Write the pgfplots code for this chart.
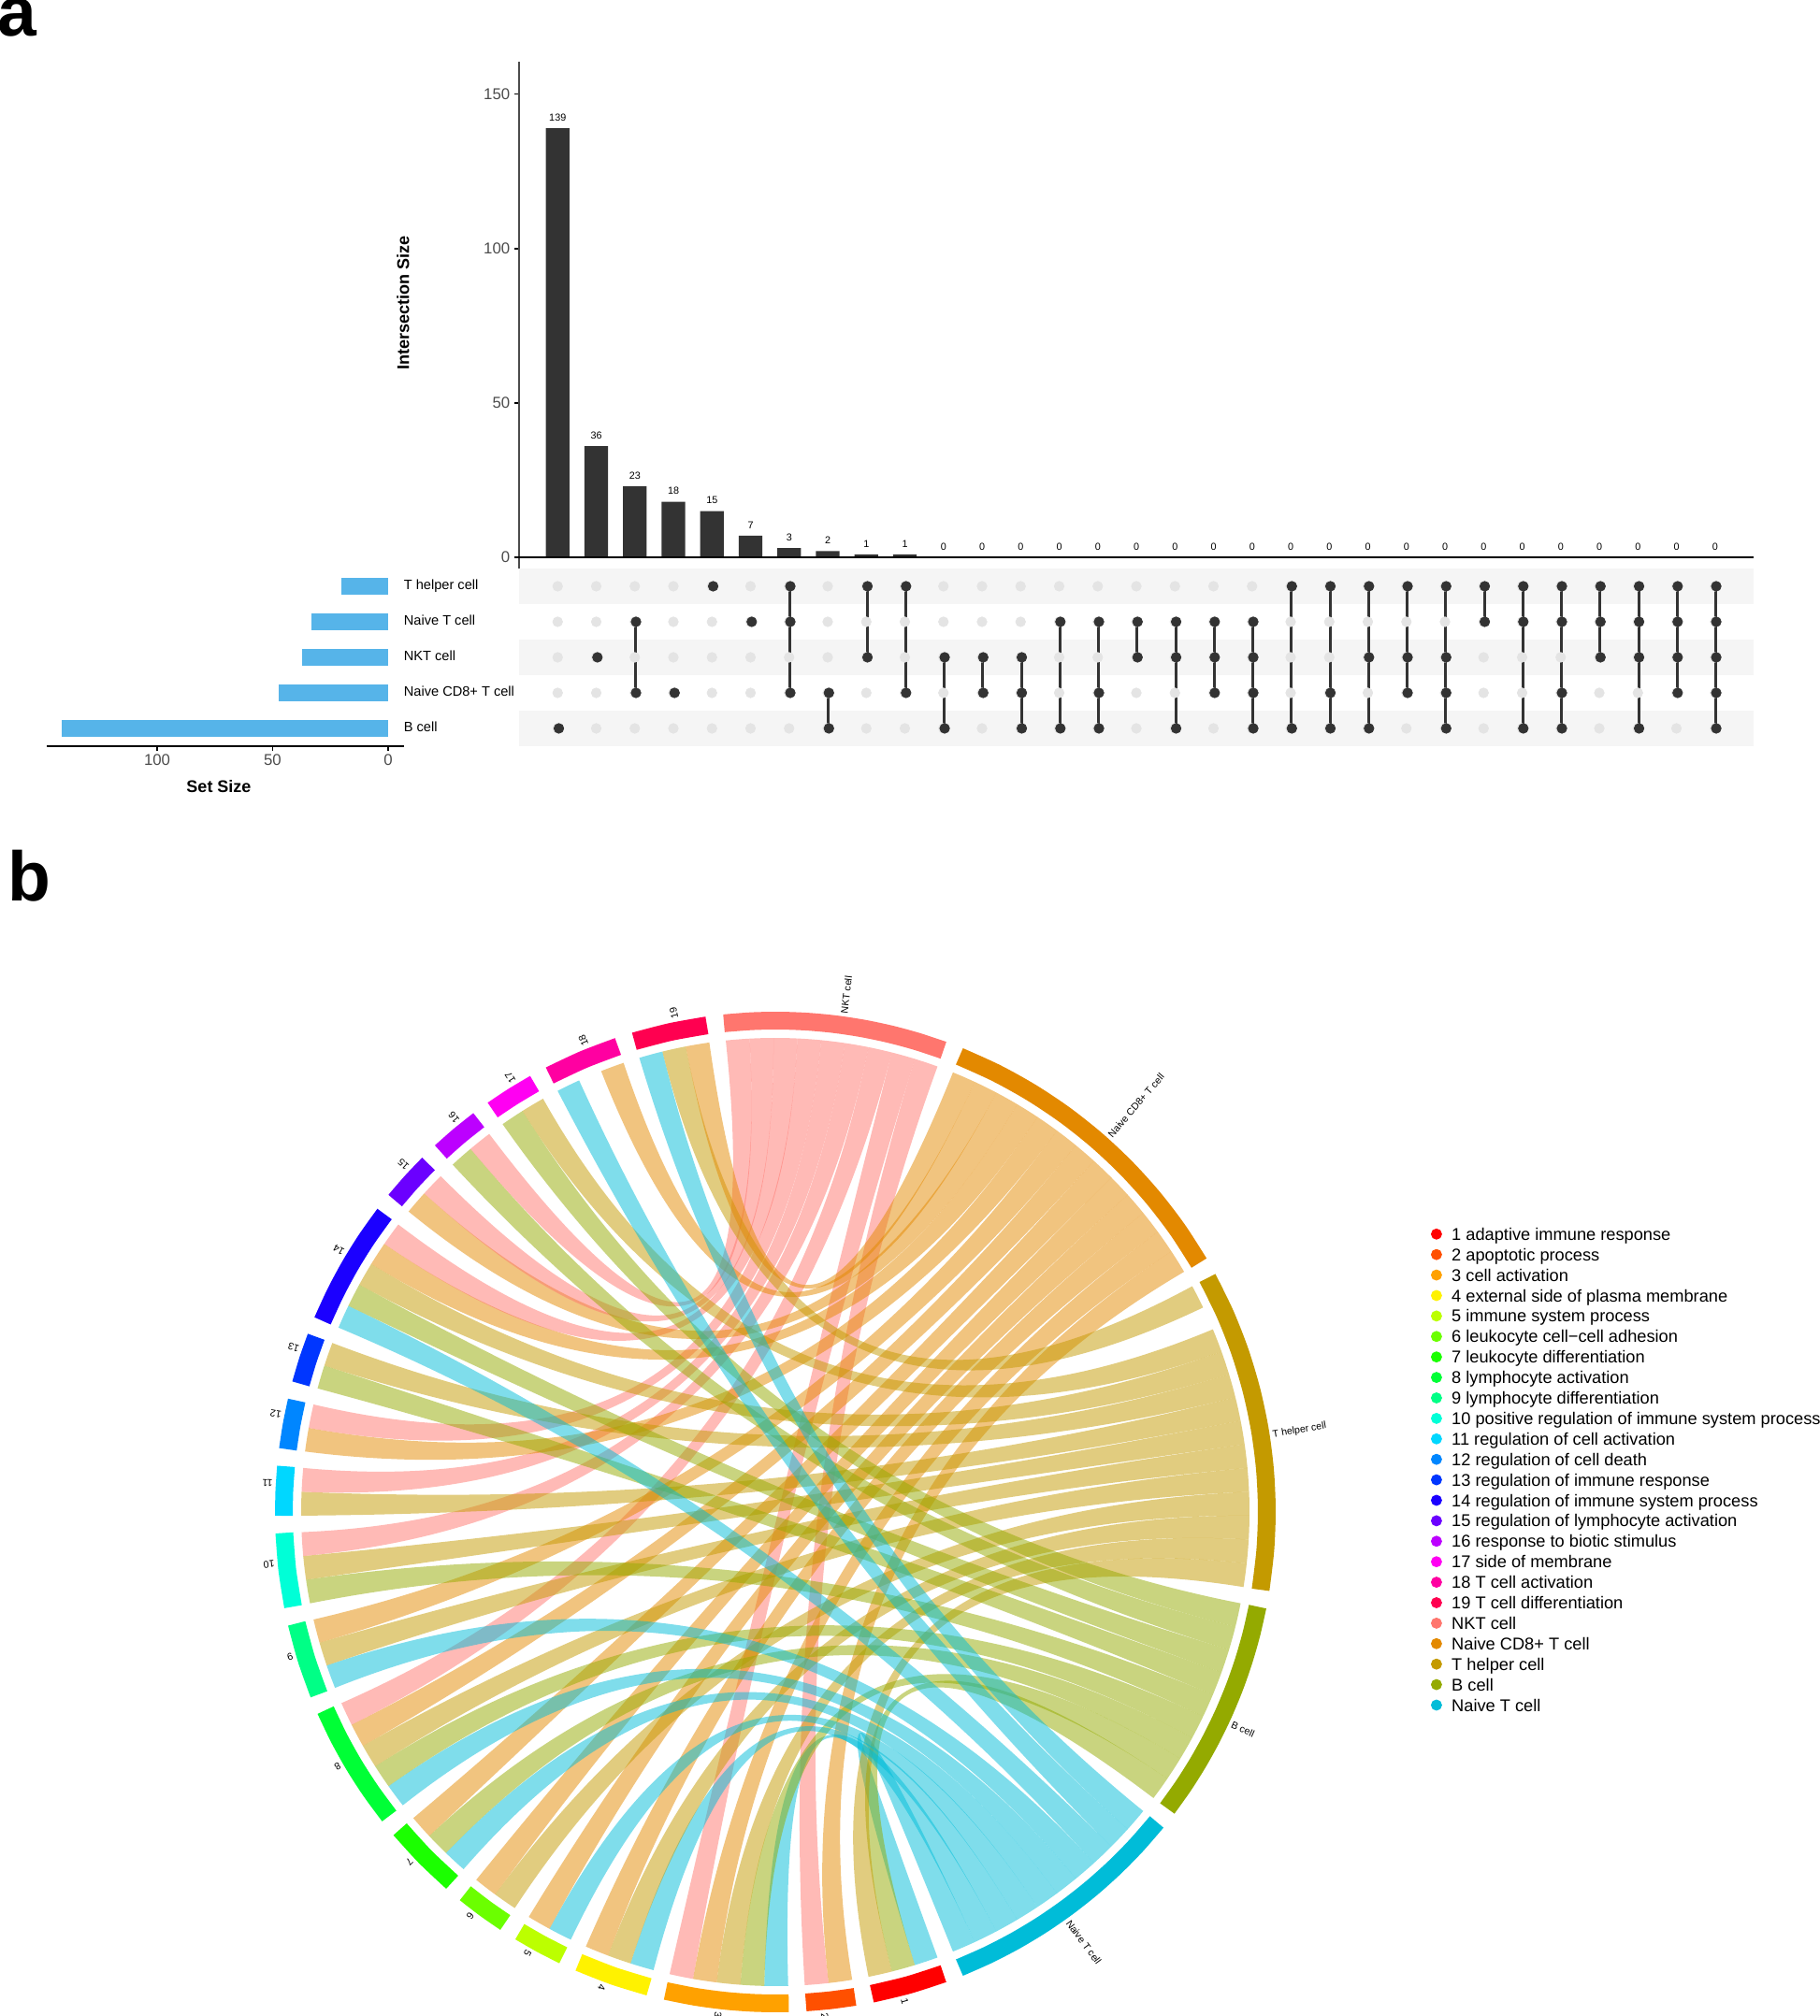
\documentclass[border=0pt]{standalone}
\usepackage{fontspec}
\setmainfont{Liberation Sans}
\usepackage{pgfplots}
\usepackage{pgfplotstable}
\pgfplotsset{compat=1.18}

\newcommand\fs[1]{\fontsize{#1}{#1}\selectfont}

% upset bars and set sizes
\pgfplotstableread{
x y
0 139
1 36
2 23
3 18
4 15
5 7
6 3
7 2
8 1
9 1
10 0
11 0
12 0
13 0
14 0
15 0
16 0
17 0
18 0
19 0
20 0
21 0
22 0
23 0
24 0
25 0
26 0
27 0
28 0
29 0
30 0
}\intersect

\pgfplotstableread{
size row
20 4
33 3
37 2
47 1
141 0
}\setsizes

% filled dots of the matrix: column, row (B cell 0 ... T helper 4)
\pgfplotstableread{
x y
0 0
1 2
2 3
2 1
3 1
4 4
5 3
6 4
6 3
6 1
7 1
7 0
8 4
8 2
9 4
9 1
10 2
10 0
11 2
11 1
12 2
12 1
12 0
13 3
13 0
14 3
14 1
14 0
15 3
15 2
16 3
16 2
16 0
17 3
17 2
17 1
18 3
18 2
18 1
18 0
19 4
19 0
20 4
20 1
20 0
21 4
21 2
21 0
22 4
22 2
22 1
23 4
23 2
23 1
23 0
24 4
24 3
25 4
25 3
25 0
26 4
26 3
26 1
26 0
27 4
27 3
27 2
28 4
28 3
28 2
28 0
29 4
29 3
29 2
29 1
30 4
30 3
30 2
30 1
30 0
}\members

\pgfplotstableread{
x y
2 3
2 1
nan nan
6 4
6 1
nan nan
7 1
7 0
nan nan
8 4
8 2
nan nan
9 4
9 1
nan nan
10 2
10 0
nan nan
11 2
11 1
nan nan
12 2
12 0
nan nan
13 3
13 0
nan nan
14 3
14 0
nan nan
15 3
15 2
nan nan
16 3
16 0
nan nan
17 3
17 1
nan nan
18 3
18 0
nan nan
19 4
19 0
nan nan
20 4
20 0
nan nan
21 4
21 0
nan nan
22 4
22 1
nan nan
23 4
23 0
nan nan
24 4
24 3
nan nan
25 4
25 0
nan nan
26 4
26 0
nan nan
27 4
27 2
nan nan
28 4
28 0
nan nan
29 4
29 1
nan nan
30 4
30 0
}\links

% colours
\definecolor{t1}{RGB}{255,0,0}
\definecolor{t2}{RGB}{255,80,0}
\definecolor{t3}{RGB}{255,161,0}
\definecolor{t4}{RGB}{255,242,0}
\definecolor{t5}{RGB}{188,255,0}
\definecolor{t6}{RGB}{107,255,0}
\definecolor{t7}{RGB}{27,255,0}
\definecolor{t8}{RGB}{0,255,54}
\definecolor{t9}{RGB}{0,255,134}
\definecolor{t10}{RGB}{0,255,215}
\definecolor{t11}{RGB}{0,215,255}
\definecolor{t12}{RGB}{0,134,255}
\definecolor{t13}{RGB}{0,54,255}
\definecolor{t14}{RGB}{27,0,255}
\definecolor{t15}{RGB}{107,0,255}
\definecolor{t16}{RGB}{188,0,255}
\definecolor{t17}{RGB}{255,0,242}
\definecolor{t18}{RGB}{255,0,161}
\definecolor{t19}{RGB}{255,0,80}
\definecolor{cNKT}{RGB}{255,118,110}
\definecolor{cCD}{RGB}{227,137,0}
\definecolor{cTH}{RGB}{196,154,0}
\definecolor{cB}{RGB}{148,170,0}
\definecolor{cNT}{RGB}{0,188,216}
\definecolor{barblue}{RGB}{86,180,233}
\definecolor{dark}{RGB}{51,51,51}
\definecolor{band}{RGB}{245,245,245}
\definecolor{lightdot}{RGB}{228,228,228}

% chord diagram: one unit of sector is \uw degrees, positions count clockwise from the sector start
\def\uw{2.8889}
\def\NKT{96}
\def\CD{68}
\def\TH{28.444}
\def\BC{-11.111}
\def\NT{-39.111}
\newcommand\ribbon[5]{%
  \fill[#5,fill opacity=0.5]
    (axis cs:{507*cos(#1-#2*\uw)},{507*sin(#1-#2*\uw)})
    arc[start angle={#1-#2*\uw},delta angle=-\uw,radius=253.5pt]
    .. controls (axis cs:{169*cos(#1-#2*\uw-\uw)},{169*sin(#1-#2*\uw-\uw)})
    and (axis cs:{169*cos(#3-#4*\uw)},{169*sin(#3-#4*\uw)})
    .. (axis cs:{507*cos(#3-#4*\uw)},{507*sin(#3-#4*\uw)})
    arc[start angle={#3-#4*\uw},delta angle=-\uw,radius=253.5pt]
    .. controls (axis cs:{169*cos(#3-#4*\uw-\uw)},{169*sin(#3-#4*\uw-\uw)})
    and (axis cs:{169*cos(#1-#2*\uw)},{169*sin(#1-#2*\uw)})
    .. cycle;}
\newcommand\seclabel[2]{%
  \node[rotate=#1,anchor=west,inner sep=0pt,font=\fs{5.3}]
    at (axis cs:{538*cos(#1-0.85)},{538*sin(#1-0.85)}) {#2};}

\pgfplotsset{
  seg/.style={forget plot,smooth,no marks,data cs=polar,line width=9.5pt,color=#1},
  legdot/.style={color=#1},
}

\begin{document}
\begin{tikzpicture}
\path[use as bounding box] (0,0) rectangle (973pt,1078pt);

\node[anchor=base west,inner sep=0pt,font=\fs{37.5}\bfseries] at (-1.5pt,1058.7pt) {a};
\node[anchor=base west,inner sep=0pt,font=\fs{37.5}\bfseries] at (4pt,596pt) {b};

% intersection sizes
\begin{axis}[at={(277.5pt,774pt)},anchor=south west,scale only axis,
  width=660pt,height=271.2pt,
  xmin=-1,xmax=31,ymin=-3.6,ymax=160.7,
  axis x line=none,axis y line*=left,
  y axis line style={draw=black!70,line width=0.6pt,-},
  ytick={0,50,100,150},tick align=outside,
  major tick length=2.5pt,
  ytick style={black,line width=0.6pt},
  /pgf/number format/assume math mode=true,
  yticklabel style={font=\fs{8.4},text=black!70,inner sep=0pt,xshift=-2.2pt},
  ylabel={Intersection Size},
  ylabel style={at={(rel axis cs:-0.0939,0.5227)},anchor=center,font=\fs{9}\bfseries,inner sep=0pt},
  clip=false]
\addplot[ybar,bar width=12.7pt,fill=dark,draw=none,
  nodes near coords,
  every node near coord/.append style={font=\fs{5.4},text=black,inner sep=0pt,anchor=south,yshift=3.6pt,
    /pgf/number format/assume math mode=true}]
  table[x=x,y=y] {\intersect};
\addplot[black,line width=1.4pt,forget plot] coordinates {(-1.13,0) (31,0)};
\end{axis}

% matrix
\begin{axis}[at={(277.5pt,679pt)},anchor=south west,scale only axis,
  width=660pt,height=95pt,hide axis,
  xmin=-1,xmax=31,ymin=-0.5,ymax=4.5,clip=false]
\addplot[fill=band,draw=none] coordinates {(-1,3.5) (31,3.5) (31,4.5) (-1,4.5)} -- cycle;
\addplot[fill=band,draw=none] coordinates {(-1,1.5) (31,1.5) (31,2.5) (-1,2.5)} -- cycle;
\addplot[fill=band,draw=none] coordinates {(-1,-0.5) (31,-0.5) (31,0.5) (-1,0.5)} -- cycle;
\addplot[only marks,mark=*,mark size=2.6pt,color=lightdot] coordinates {
(0,4)(1,4)(2,4)(3,4)(4,4)(5,4)(6,4)(7,4)(8,4)(9,4)(10,4)(11,4)(12,4)(13,4)(14,4)(15,4)(16,4)(17,4)(18,4)(19,4)(20,4)(21,4)(22,4)(23,4)(24,4)(25,4)(26,4)(27,4)(28,4)(29,4)(30,4)
(0,3)(1,3)(2,3)(3,3)(4,3)(5,3)(6,3)(7,3)(8,3)(9,3)(10,3)(11,3)(12,3)(13,3)(14,3)(15,3)(16,3)(17,3)(18,3)(19,3)(20,3)(21,3)(22,3)(23,3)(24,3)(25,3)(26,3)(27,3)(28,3)(29,3)(30,3)
(0,2)(1,2)(2,2)(3,2)(4,2)(5,2)(6,2)(7,2)(8,2)(9,2)(10,2)(11,2)(12,2)(13,2)(14,2)(15,2)(16,2)(17,2)(18,2)(19,2)(20,2)(21,2)(22,2)(23,2)(24,2)(25,2)(26,2)(27,2)(28,2)(29,2)(30,2)
(0,1)(1,1)(2,1)(3,1)(4,1)(5,1)(6,1)(7,1)(8,1)(9,1)(10,1)(11,1)(12,1)(13,1)(14,1)(15,1)(16,1)(17,1)(18,1)(19,1)(20,1)(21,1)(22,1)(23,1)(24,1)(25,1)(26,1)(27,1)(28,1)(29,1)(30,1)
(0,0)(1,0)(2,0)(3,0)(4,0)(5,0)(6,0)(7,0)(8,0)(9,0)(10,0)(11,0)(12,0)(13,0)(14,0)(15,0)(16,0)(17,0)(18,0)(19,0)(20,0)(21,0)(22,0)(23,0)(24,0)(25,0)(26,0)(27,0)(28,0)(29,0)(30,0)
};
\addplot[dark,line width=1.5pt,unbounded coords=jump,xshift=0.4pt] table[x=x,y=y] {\links};
\addplot[only marks,mark=*,mark size=2.6pt,color=dark,xshift=0.65pt] table[x=x,y=y] {\members};
\end{axis}

% set sizes
\begin{axis}[at={(25pt,679pt)},anchor=south west,scale only axis,
  width=191pt,height=95pt,
  x dir=reverse,xmin=-6.9,xmax=147.8,ymin=-0.5,ymax=4.5,
  axis x line*=bottom,axis y line*=right,
  x axis line style={black,line width=1.2pt,-},
  y axis line style={draw=none},
  xtick={0,50,100},ytick={0,1,2,3,4},
  yticklabels={B cell,Naive CD8+ T cell,NKT cell,Naive T cell,T helper cell},
  ytick style={draw=none},
  xtick style={black,line width=0.6pt},
  tick align=outside,major tick length=2.5pt,
  /pgf/number format/assume math mode=true,
  xticklabel style={font=\fs{8.4},text=black!70,inner sep=0pt,yshift=-1.5pt},
  yticklabel style={font=\fs{7.3},inner sep=0pt,xshift=-2.75pt,text height=5.3pt,text depth=1.5pt},
  xlabel={Set Size},
  xlabel style={at={(rel axis cs:0.4817,-0.227)},anchor=center,font=\fs{9}\bfseries,inner sep=0pt},
  clip=false]
\addplot[xbar,bar width=8.5pt,bar shift=0pt,fill=barblue,draw=barblue,line width=0.5pt] table[x=size,y=row] {\setsizes};
\end{axis}

% chord diagram
\begin{axis}[at={(414.5pt,269.5pt)},anchor=center,scale only axis,
  width=560pt,height=560pt,hide axis,
  xmin=-560,xmax=560,ymin=-560,ymax=560,clip=false,
  legend style={at={(axis cs:701,304.6)},anchor=north west,draw=none,fill=none,
    inner sep=0pt,outer sep=0pt,row sep=1.95pt,
    font=\fs{9.12},
    nodes={inner sep=0pt,text height=7pt,text depth=2pt,anchor=base west},
    /tikz/every odd column/.append style={column sep=5.2pt}},
  legend cell align=left,
  legend image code/.code={\fill[#1] (2.75pt,3.3pt) circle (2.75pt);}]

\ribbon{-70}{0}{\NT}{9}{cNT}
\ribbon{-70}{1}{\BC}{8}{cB}
\ribbon{-70}{2}{\TH}{12}{cTH}
\ribbon{-80.667}{0}{\CD}{12}{cCD}
\ribbon{-80.667}{1}{\NKT}{8}{cNKT}
\ribbon{-88.444}{0}{\NT}{8}{cNT}
\ribbon{-88.444}{1}{\BC}{7}{cB}
\ribbon{-88.444}{2}{\TH}{11}{cTH}
\ribbon{-88.444}{3}{\CD}{11}{cCD}
\ribbon{-88.444}{4}{\NKT}{7}{cNKT}
\ribbon{-104.889}{0}{\NT}{7}{cNT}
\ribbon{-104.889}{1}{\TH}{10}{cTH}
\ribbon{-104.889}{2}{\CD}{10}{cCD}
\ribbon{-115.556}{0}{\NT}{6}{cNT}
\ribbon{-115.556}{1}{\CD}{9}{cCD}
\ribbon{-123.333}{0}{\TH}{9}{cTH}
\ribbon{-123.333}{1}{\CD}{8}{cCD}
\ribbon{-131.111}{0}{\NT}{5}{cNT}
\ribbon{-131.111}{1}{\BC}{6}{cB}
\ribbon{-131.111}{2}{\CD}{7}{cCD}
\ribbon{-141.778}{0}{\NT}{4}{cNT}
\ribbon{-141.778}{1}{\BC}{5}{cB}
\ribbon{-141.778}{2}{\TH}{8}{cTH}
\ribbon{-141.778}{3}{\CD}{6}{cCD}
\ribbon{-141.778}{4}{\NKT}{6}{cNKT}
\ribbon{-158.222}{0}{\NT}{3}{cNT}
\ribbon{-158.222}{1}{\TH}{7}{cTH}
\ribbon{-158.222}{2}{\CD}{5}{cCD}
\ribbon{-168.889}{0}{\BC}{4}{cB}
\ribbon{-168.889}{1}{\TH}{6}{cTH}
\ribbon{-168.889}{2}{\NKT}{5}{cNKT}
\ribbon{-179.556}{0}{\TH}{5}{cTH}
\ribbon{-179.556}{1}{\NKT}{4}{cNKT}
\ribbon{-187.333}{0}{\CD}{4}{cCD}
\ribbon{-187.333}{1}{\NKT}{3}{cNKT}
\ribbon{-195.111}{0}{\BC}{3}{cB}
\ribbon{-195.111}{1}{\TH}{4}{cTH}
\ribbon{-202.889}{0}{\NT}{2}{cNT}
\ribbon{-202.889}{1}{\BC}{2}{cB}
\ribbon{-202.889}{2}{\TH}{3}{cTH}
\ribbon{-202.889}{3}{\CD}{3}{cCD}
\ribbon{-202.889}{4}{\NKT}{2}{cNKT}
\ribbon{-219.333}{0}{\CD}{2}{cCD}
\ribbon{-219.333}{1}{\NKT}{1}{cNKT}
\ribbon{-227.111}{0}{\BC}{1}{cB}
\ribbon{-227.111}{1}{\NKT}{0}{cNKT}
\ribbon{-234.889}{0}{\BC}{0}{cB}
\ribbon{-234.889}{1}{\TH}{2}{cTH}
\ribbon{-242.667}{0}{\NT}{1}{cNT}
\ribbon{-242.667}{2}{\CD}{1}{cCD}
\ribbon{-253.333}{0}{\NT}{0}{cNT}
\ribbon{-253.333}{1}{\TH}{0}{cTH}
\ribbon{-253.333}{2}{\CD}{0}{cCD}

% outer ring: angle, radius
\addplot[seg=t1] coordinates {(-70,525.5) (-74.33,525.5) (-78.67,525.5)};
\addplot[seg=t2] coordinates {(-80.67,525.5) (-83.56,525.5) (-86.44,525.5)};
\addplot[seg=t3] coordinates {(-88.44,525.5) (-92.05,525.5) (-95.67,525.5) (-99.28,525.5) (-102.89,525.5)};
\addplot[seg=t4] coordinates {(-104.89,525.5) (-109.22,525.5) (-113.56,525.5)};
\addplot[seg=t5] coordinates {(-115.56,525.5) (-118.44,525.5) (-121.33,525.5)};
\addplot[seg=t6] coordinates {(-123.33,525.5) (-126.22,525.5) (-129.11,525.5)};
\addplot[seg=t7] coordinates {(-131.11,525.5) (-135.44,525.5) (-139.78,525.5)};
\addplot[seg=t8] coordinates {(-141.78,525.5) (-145.39,525.5) (-149,525.5) (-152.61,525.5) (-156.22,525.5)};
\addplot[seg=t9] coordinates {(-158.22,525.5) (-162.56,525.5) (-166.89,525.5)};
\addplot[seg=t10] coordinates {(-168.89,525.5) (-173.22,525.5) (-177.56,525.5)};
\addplot[seg=t11] coordinates {(-179.56,525.5) (-182.44,525.5) (-185.33,525.5)};
\addplot[seg=t12] coordinates {(-187.33,525.5) (-190.22,525.5) (-193.11,525.5)};
\addplot[seg=t13] coordinates {(-195.11,525.5) (-198,525.5) (-200.89,525.5)};
\addplot[seg=t14] coordinates {(-202.89,525.5) (-206.5,525.5) (-210.11,525.5) (-213.72,525.5) (-217.33,525.5)};
\addplot[seg=t15] coordinates {(-219.33,525.5) (-222.22,525.5) (-225.11,525.5)};
\addplot[seg=t16] coordinates {(-227.11,525.5) (-230,525.5) (-232.89,525.5)};
\addplot[seg=t17] coordinates {(-234.89,525.5) (-237.78,525.5) (-240.67,525.5)};
\addplot[seg=t18] coordinates {(-242.67,525.5) (-247,525.5) (-251.33,525.5)};
\addplot[seg=t19] coordinates {(-253.33,525.5) (-257.67,525.5) (-262,525.5)};
\addplot[seg=cNKT] coordinates {(96,525.5) (92.75,525.5) (89.5,525.5) (86.25,525.5) (83,525.5) (79.75,525.5) (76.5,525.5) (73.25,525.5) (70,525.5)};
\addplot[seg=cCD] coordinates {(68,525.5) (63.3,525.5) (58.6,525.5) (53.9,525.5) (49.2,525.5) (44.5,525.5) (39.8,525.5) (35.1,525.5) (30.44,525.5)};
\addplot[seg=cTH] coordinates {(28.44,525.5) (23.75,525.5) (19.06,525.5) (14.37,525.5) (9.67,525.5) (4.98,525.5) (0.29,525.5) (-4.4,525.5) (-9.11,525.5)};
\addplot[seg=cB] coordinates {(-11.11,525.5) (-14.36,525.5) (-17.61,525.5) (-20.86,525.5) (-24.11,525.5) (-27.36,525.5) (-30.61,525.5) (-33.86,525.5) (-37.11,525.5)};
\addplot[seg=cNT] coordinates {(-39.11,525.5) (-42.72,525.5) (-46.33,525.5) (-49.94,525.5) (-53.56,525.5) (-57.17,525.5) (-60.78,525.5) (-64.39,525.5) (-68,525.5)};

\seclabel{-74.33}{1}
\seclabel{-83.56}{2}
\seclabel{-95.67}{3}
\seclabel{-109.22}{4}
\seclabel{-118.44}{5}
\seclabel{-126.22}{6}
\seclabel{-135.44}{7}
\seclabel{-149}{8}
\seclabel{-162.56}{9}
\seclabel{-173.22}{10}
\seclabel{-182.44}{11}
\seclabel{-190.22}{12}
\seclabel{-198}{13}
\seclabel{-210.11}{14}
\seclabel{-222.22}{15}
\seclabel{-230}{16}
\seclabel{-237.78}{17}
\seclabel{-247}{18}
\seclabel{-257.67}{19}
\seclabel{83}{NKT cell}
\seclabel{49.22}{Naive CD8+ T cell}
\seclabel{9.67}{T helper cell}
\seclabel{-24.11}{B cell}
\seclabel{-53.56}{Naive T cell}

\addlegendimage{legdot=t1}\addlegendentry{1 adaptive immune response}
\addlegendimage{legdot=t2}\addlegendentry{2 apoptotic process}
\addlegendimage{legdot=t3}\addlegendentry{3 cell activation}
\addlegendimage{legdot=t4}\addlegendentry{4 external side of plasma membrane}
\addlegendimage{legdot=t5}\addlegendentry{5 immune system process}
\addlegendimage{legdot=t6}\addlegendentry{6 leukocyte cell−cell adhesion}
\addlegendimage{legdot=t7}\addlegendentry{7 leukocyte differentiation}
\addlegendimage{legdot=t8}\addlegendentry{8 lymphocyte activation}
\addlegendimage{legdot=t9}\addlegendentry{9 lymphocyte differentiation}
\addlegendimage{legdot=t10}\addlegendentry{10 positive regulation of immune system process}
\addlegendimage{legdot=t11}\addlegendentry{11 regulation of cell activation}
\addlegendimage{legdot=t12}\addlegendentry{12 regulation of cell death}
\addlegendimage{legdot=t13}\addlegendentry{13 regulation of immune response}
\addlegendimage{legdot=t14}\addlegendentry{14 regulation of immune system process}
\addlegendimage{legdot=t15}\addlegendentry{15 regulation of lymphocyte activation}
\addlegendimage{legdot=t16}\addlegendentry{16 response to biotic stimulus}
\addlegendimage{legdot=t17}\addlegendentry{17 side of membrane}
\addlegendimage{legdot=t18}\addlegendentry{18 T cell activation}
\addlegendimage{legdot=t19}\addlegendentry{19 T cell differentiation}
\addlegendimage{legdot=cNKT}\addlegendentry{NKT cell}
\addlegendimage{legdot=cCD}\addlegendentry{Naive CD8+ T cell}
\addlegendimage{legdot=cTH}\addlegendentry{T helper cell}
\addlegendimage{legdot=cB}\addlegendentry{B cell}
\addlegendimage{legdot=cNT}\addlegendentry{Naive T cell}
\end{axis}
\end{tikzpicture}
\end{document}
